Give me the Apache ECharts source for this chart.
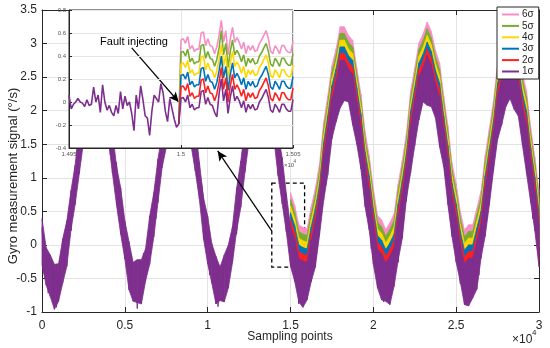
<!DOCTYPE html>
<html><head><meta charset="utf-8">
<script src="https://cdn.jsdelivr.net/npm/echarts@6/dist/echarts.min.js"></script>
<style>html,body{margin:0;padding:0;background:#fff}#c{width:550px;height:348px}</style>
</head><body><div id="c"></div>
<script>
// ---------- data ----------
const seriesNames = ['6σ', '5σ', '4σ', '3σ', '2σ', '1σ'];
// fault bias of each series relative to the 1σ trace
const faultBias = [0.5, 0.4, 0.3, 0.2, 0.1, 0];
const faultStart = 15000;      // sampling point where the fault is injected
// envelope of the noisy 1σ signal band, one value every 250 sampling points
const bandStep = 250;
const mainUpper = [
  0.39,-0.04,-0.15,-0.29,-0.28,0.09,0.36,0.81,1.19,1.77,
  2.12,2.40,2.77,2.77,2.73,2.42,2.19,1.70,1.17,0.85,
  0.36,0.05,-0.26,-0.22,-0.22,-0.06,0.43,0.78,1.28,1.66,
  2.19,2.46,2.62,2.84,2.70,2.51,2.08,1.77,1.23,0.70,
  0.43,0.02,-0.17,-0.33,-0.15,0.00,0.28,0.85,1.25,1.75,
  2.08,2.53,2.68,2.69,2.77,2.48,2.17,1.66,1.30,0.76,
  0.28,0.09,-0.20,-0.24,-0.26,0.07,0.34,0.70,1.32,1.72,
  2.17,2.42,2.75,2.75,2.62,2.55,2.14,1.75,1.19,0.83,
  0.34,-0.06,-0.13,-0.27,-0.17,-0.04,0.41,0.76,1.17,1.79,
  2.14,2.51,2.64,2.82,2.68,2.40,2.21,1.72,1.28,0.72,
  0.41,0.00,-0.28,-0.20,-0.20,0.05,0.30,0.83,1.23,1.64,
  2.21,2.48,2.73,2.71,2.75,2.46,2.06,1.79,1.25,0.81,
  0.30
];
const mainLower = [
  -0.30,-0.60,-0.77,-0.96,-0.84,-0.57,-0.32,0.22,0.60,1.06,
  1.52,1.91,2.01,2.13,2.11,1.80,1.58,1.07,0.59,0.16,
  -0.21,-0.67,-0.84,-0.86,-0.88,-0.54,-0.29,0.12,0.63,1.15,
  1.45,1.84,2.11,2.09,2.14,1.83,1.48,1.10,0.68,0.09,
  -0.28,-0.57,-0.88,-0.83,-0.85,-0.64,-0.26,0.21,0.56,1.08,
  1.55,1.80,2.14,2.12,2.04,1.86,1.57,1.03,0.61,0.19,
  -0.32,-0.54,-0.85,-0.93,-0.82,-0.55,-0.33,0.14,0.66,1.04,
  1.58,1.83,2.04,2.15,2.13,1.79,1.50,1.13,0.57,0.22,
  -0.29,-0.64,-0.82,-0.84,-0.89,-0.62,-0.23,0.10,0.69,1.07,
  1.48,1.86,2.13,2.08,2.06,1.89,1.46,1.16,0.60,0.12,
  -0.26,-0.55,-0.89,-0.91,-0.79,-0.66,-0.20,0.13,0.59,1.10,
  1.57,1.79,2.06,2.18,2.02,1.92,1.49,1.06,0.63,0.21,
  -0.33
];
// 1σ raw trace (noise spikes), one value every 125 sampling points
const traceStep = 125;
const mainSignal = [
  0.26,-0.40,-0.15,-0.72,-0.25,-0.69,-0.39,-0.93,-0.42,-0.62,
  0.00,-0.33,0.28,0.46,0.21,0.84,0.63,1.44,1.28,1.82,
  1.54,2.11,1.96,2.58,2.20,2.67,2.67,2.18,2.53,1.98,
  2.43,1.89,2.02,1.34,1.50,0.97,1.23,0.51,0.70,0.46,
  -0.21,0.00,-0.60,-0.15,-0.64,-0.37,-0.95,-0.47,-0.72,-0.12,
  -0.48,0.09,0.26,-0.01,0.61,0.39,1.20,1.05,1.60,1.34,
  1.92,1.81,2.46,2.10,2.62,2.65,2.20,2.58,2.08,2.55,
  2.04,2.21,1.54,1.72,1.20,1.47,0.75,0.93,0.68,-0.01,
  0.19,-0.45,-0.03,-0.54,-0.32,-0.92,-0.49,-0.77,-0.22,-0.60,
  -0.06,0.07,-0.21,0.39,0.16,0.96,0.81,1.37,1.12,1.72,
  1.62,2.31,1.98,2.52,2.60,2.18,2.60,2.13,2.65,2.16,
  2.36,1.73,1.92,1.42,1.70,0.99,1.17,0.91,0.21,0.39,
  -0.26,0.12,-0.42,-0.22,-0.88,-0.47,-0.79,-0.27,-0.70,-0.18,
  -0.08,-0.40,0.19,-0.06,0.73,0.57,1.13,0.89,1.50,1.42,
  2.12,1.83,2.40,2.50,2.13,2.58,2.15,2.70,2.26,2.48,
  1.88,2.11,1.62,1.92,1.22,1.41,1.15,0.44,0.61,-0.06,
  0.31,-0.27,-0.10,-0.70,-0.42,-0.85,-0.29,-0.75,-0.28,-0.20,
  -0.55,0.00,-0.26,0.51,0.34,0.89,0.65,1.27,1.20,1.92,
  1.64,2.25,2.38,2.03,2.53,2.13,2.72,2.31,2.58,2.00,
  2.26,1.81,2.12,1.44,1.64,1.39,0.68,0.84,0.16,0.51,
  -0.08,0.05,-0.58,-0.32,-0.72,-0.27,-0.85,-0.33,-0.30,-0.67,
  -0.15,-0.45,0.31,0.12,0.66,0.41,1.03,0.97,1.70,1.44,
  2.06,2.23,1.91,2.43,2.08,2.70,2.33,2.63,2.10,2.38,
  1.96,2.31,1.64,1.86,1.62,0.92,1.08,0.39,0.73,0.12,
  0.24
];
// inset: samples 14950..14999 (before fault, all traces equal)
const insetStart = 14950;
const insetPre = [
  0.06,-0.06,-0.02,0.00,0.03,0.00,-0.01,-0.04,0.02,-0.03,
  -0.02,0.13,0.00,0.06,-0.09,0.15,0.00,-0.07,-0.03,-0.09,
  -0.12,-0.03,-0.10,0.09,-0.06,0.05,-0.03,0.00,-0.10,-0.25,
  0.06,-0.06,0.14,0.02,-0.12,-0.14,-0.29,-0.08,0.06,0.03,
  0.00,0.16,0.08,-0.08,-0.17,0.03,-0.06,-0.15,-0.22,-0.19
];
// inset: samples 15000..15050 (after fault)
const inset6s = [0.54,0.55,0.51,0.57,0.46,0.49,0.44,0.46,0.46,0.60,0.61,0.49,0.55,0.49,0.48,0.42,0.48,0.58,0.71,0.52,0.62,0.41,0.55,0.65,0.52,0.56,0.52,0.46,0.52,0.42,0.49,0.45,0.49,0.44,0.45,0.51,0.54,0.58,0.62,0.55,0.44,0.42,0.49,0.46,0.42,0.49,0.49,0.45,0.43,0.43,0.53];
const inset5s = [0.43,0.44,0.40,0.46,0.35,0.38,0.33,0.35,0.35,0.49,0.50,0.38,0.44,0.38,0.37,0.31,0.37,0.47,0.62,0.41,0.51,0.30,0.44,0.54,0.41,0.45,0.41,0.35,0.41,0.31,0.38,0.34,0.38,0.33,0.34,0.40,0.43,0.47,0.51,0.44,0.33,0.31,0.38,0.35,0.31,0.38,0.38,0.34,0.32,0.32,0.42];
const inset4s = [0.33,0.34,0.30,0.36,0.25,0.28,0.23,0.25,0.25,0.39,0.40,0.28,0.34,0.28,0.27,0.21,0.27,0.37,0.50,0.31,0.41,0.20,0.34,0.44,0.31,0.35,0.31,0.25,0.31,0.21,0.28,0.24,0.28,0.23,0.24,0.30,0.33,0.37,0.41,0.34,0.23,0.21,0.28,0.25,0.21,0.28,0.28,0.24,0.22,0.22,0.32];
const inset3s = [0.23,0.24,0.20,0.26,0.15,0.18,0.13,0.15,0.15,0.29,0.30,0.18,0.24,0.18,0.17,0.11,0.17,0.27,0.40,0.21,0.31,0.10,0.24,0.34,0.21,0.25,0.21,0.15,0.21,0.11,0.18,0.14,0.18,0.13,0.14,0.20,0.23,0.27,0.31,0.24,0.13,0.11,0.18,0.15,0.11,0.18,0.18,0.14,0.12,0.12,0.22];
const inset2s = [0.13,0.14,0.10,0.16,0.05,0.08,0.03,0.05,0.05,0.19,0.20,0.08,0.14,0.08,0.07,0.01,0.07,0.17,0.30,0.11,0.21,0.00,0.14,0.24,0.11,0.15,0.11,0.05,0.11,0.01,0.08,0.04,0.08,0.03,0.04,0.10,0.13,0.17,0.21,0.14,0.03,0.01,0.08,0.05,0.01,0.08,0.08,0.04,0.02,0.02,0.12];
const inset1s = [0.03,0.04,0.00,0.06,-0.05,-0.02,-0.07,-0.05,-0.05,0.09,0.10,-0.02,0.04,-0.02,-0.03,-0.09,-0.13,0.07,0.20,0.01,0.11,-0.10,0.04,0.14,0.01,0.05,0.01,-0.05,0.01,-0.09,-0.02,-0.06,-0.02,-0.07,-0.06,0.00,0.03,0.07,0.11,0.04,-0.07,-0.09,-0.02,-0.05,-0.09,-0.02,-0.02,-0.06,-0.08,-0.08,0.02];
const insetPost = [inset6s, inset5s, inset4s, inset3s, inset2s, inset1s];
// tick labels
const mainXTickLabels = ['0', '0.5', '1', '1.5', '2', '2.5', '3'];
const insetXTickLabels = ['1.495', '1.5', '1.505'];
// annotation anchors (data coordinates)
const zoomBox = { x: [13870, 15850], y: [-0.33, 0.92] };
const zoomArrow = [[13865, 0.21], [10606, 1.40]];
const faultArrow = [[14978, 0.47], [14999, 0.0]];

// ---------- style ----------
const colors = ['#f78fc5', '#77ac30', '#ffd700', '#0072bd', '#ff2020', '#7e2f8e'];
const FONT = '"Liberation Sans", Arial, sans-serif';
const AX = '#262626';

const chart = echarts.init(document.getElementById('c'), null, { renderer: 'canvas' });

function bandItems(bias, fromIndex) {
  const out = [];
  for (let i = fromIndex; i < mainUpper.length - 1; i++) {
    out.push([i * bandStep, mainLower[i] + bias, mainUpper[i] + bias,
              (i + 1) * bandStep, mainLower[i + 1] + bias, mainUpper[i + 1] + bias]);
  }
  return out;
}
function bandRenderer(color) {
  return function (params, api) {
    const p = [
      api.coord([api.value(0), api.value(1)]), api.coord([api.value(0), api.value(2)]),
      api.coord([api.value(3), api.value(5)]), api.coord([api.value(3), api.value(4)])
    ];
    return { type: 'polygon', shape: { points: p },
      style: { fill: color, stroke: color, lineWidth: 0.8 } };
  };
}

const series = [];
const faultBandIdx = faultStart / bandStep;
seriesNames.forEach((name, j) => {
  const last = j === seriesNames.length - 1;
  series.push({
    name, type: 'custom', xAxisIndex: 0, yAxisIndex: 0,
    data: bandItems(faultBias[j], last ? 0 : faultBandIdx),
    encode: { x: [0, 3], y: [1, 2, 4, 5] },
    renderItem: bandRenderer(colors[j]),
    itemStyle: { color: colors[j] }, z: 2, silent: true
  });
});
// raw 1σ trace on top of its band
series.push({
  name: '1σ', type: 'line', xAxisIndex: 0, yAxisIndex: 0,
  data: mainSignal.map((v, i) => [i * traceStep, v]),
  showSymbol: false, symbol: 'none', color: colors[5],
  lineStyle: { width: 1, color: colors[5] }, z: 3, silent: true
});
seriesNames.forEach((name, j) => {
  let data;
  if (j === seriesNames.length - 1) {
    data = insetPre.map((v, i) => [insetStart + i, v])
      .concat(insetPost[j].map((v, i) => [faultStart + i, v]));
  } else {
    data = [[faultStart - 1, insetPre[insetPre.length - 1]]]
      .concat(insetPost[j].map((v, i) => [faultStart + i, v]));
  }
  series.push({
    name, type: 'line', xAxisIndex: 2, yAxisIndex: 2, data,
    showSymbol: false, symbol: 'none', color: colors[j],
    lineStyle: { width: 1.6, color: colors[j] }, z: 7, silent: true
  });
});
// annotations
series.push({
  type: 'line', xAxisIndex: 0, yAxisIndex: 0, data: [], z: 9, silent: true,
  markArea: {
    silent: true,
    itemStyle: { color: 'rgba(0,0,0,0)', borderColor: '#000', borderWidth: 1.3, borderType: [4, 3] },
    data: [[{ coord: [zoomBox.x[0], zoomBox.y[1]] }, { coord: [zoomBox.x[1], zoomBox.y[0]] }]]
  },
  markLine: {
    silent: true, symbol: ['none', 'arrow'], symbolSize: [7, 10],
    lineStyle: { color: '#000', width: 1.2, type: 'solid' }, label: { show: false },
    data: [[{ coord: zoomArrow[0] }, { coord: zoomArrow[1] }]]
  }
});
series.push({
  type: 'line', xAxisIndex: 2, yAxisIndex: 2, data: [], z: 9, silent: true,
  markLine: {
    silent: true, symbol: ['none', 'arrow'], symbolSize: [7, 10],
    lineStyle: { color: '#000', width: 1.2, type: 'solid' }, label: { show: false },
    data: [[{ coord: faultArrow[0] }, { coord: faultArrow[1] }]]
  }
});

const option = {
  animation: false,
  backgroundColor: '#fff',
  textStyle: { fontFamily: FONT },
  legend: {
    data: seriesNames, orient: 'vertical', left: 497, top: 7,
    icon: 'rect', itemWidth: 17, itemHeight: 2, itemGap: 0.4,
    padding: [2, 5, 2, 5], backgroundColor: '#fff', borderColor: AX, borderWidth: 1,
    textStyle: { fontSize: 10, color: AX, fontFamily: FONT, lineHeight: 11, padding: [0, 0, 0, -2] },
    selectedMode: false, z: 10
  },
  grid: [
    { left: 42, top: 10, width: 497, height: 302, show: false },
    { left: 69, top: 10, width: 224, height: 138, show: true, backgroundColor: '#fff',
      borderColor: AX, borderWidth: 1, z: 5 }
  ],
  xAxis: [
    { type: 'value', gridIndex: 0, min: 0, max: 30000, interval: 5000,
      axisLine: { show: true, onZero: false, lineStyle: { color: AX, width: 1 } },
      axisTick: { show: true, inside: true, length: 5, lineStyle: { color: AX } },
      axisLabel: { color: AX, fontSize: 12, margin: 8, fontFamily: FONT,
        formatter: v => mainXTickLabels[Math.round(v / 5000)] },
      splitLine: { show: true, lineStyle: { color: '#e3e3e3', width: 1 } } },
    { type: 'value', gridIndex: 0, position: 'top', min: 0, max: 30000, interval: 5000,
      axisLine: { show: true, onZero: false, lineStyle: { color: AX } },
      axisTick: { show: true, inside: true, length: 5, lineStyle: { color: AX } },
      axisLabel: { show: false }, splitLine: { show: false } },
    { type: 'value', gridIndex: 1, min: 14950, max: 15050, interval: 50, z: 6,
      axisLine: { show: true, onZero: false, lineStyle: { color: AX } },
      axisTick: { show: true, inside: true, length: 3, lineStyle: { color: AX } },
      axisLabel: { color: '#555', fontSize: 6, margin: 3, fontFamily: FONT,
        formatter: v => insetXTickLabels[Math.round((v - 14950) / 50)] },
      splitLine: { show: true, lineStyle: { color: '#e6e6e6' } } }
  ],
  yAxis: [
    { type: 'value', gridIndex: 0, min: -1, max: 3.5, interval: 0.5,
      axisLine: { show: true, onZero: false, lineStyle: { color: AX } },
      axisTick: { show: true, inside: true, length: 5, lineStyle: { color: AX } },
      axisLabel: { color: AX, fontSize: 12, margin: 5, fontFamily: FONT },
      splitLine: { show: true, lineStyle: { color: '#e3e3e3', width: 1 } } },
    { type: 'value', gridIndex: 0, position: 'right', min: -1, max: 3.5, interval: 0.5,
      axisLine: { show: true, onZero: false, lineStyle: { color: AX } },
      axisTick: { show: true, inside: true, length: 5, lineStyle: { color: AX } },
      axisLabel: { show: false }, splitLine: { show: false } },
    { type: 'value', gridIndex: 1, min: -0.4, max: 0.8, interval: 0.2, z: 6,
      axisLine: { show: true, onZero: false, lineStyle: { color: AX } },
      axisTick: { show: true, inside: true, length: 3, lineStyle: { color: AX } },
      axisLabel: { color: '#555', fontSize: 6, margin: 3, fontFamily: FONT,
        formatter: v => String(+v.toFixed(1)) },
      splitLine: { show: true, lineStyle: { color: '#e6e6e6' } } }
  ],
  graphic: [
    { type: 'text', x: 13, y: 176, rotation: Math.PI / 2, z: 10,
      style: { text: 'Gyro measurement signal (°/s)', fontSize: 13, fontFamily: FONT, fill: AX,
        align: 'center', verticalAlign: 'middle' } },
    { type: 'text', x: 290, y: 337, z: 10,
      style: { text: 'Sampling points', fontSize: 12, fontFamily: FONT, fill: AX,
        align: 'center', verticalAlign: 'middle' } },
    { type: 'text', x: 512, y: 340, z: 10,
      style: { text: '×10', fontSize: 12, fontFamily: FONT, fill: AX, align: 'left', verticalAlign: 'middle' } },
    { type: 'text', x: 532, y: 333, z: 10,
      style: { text: '4', fontSize: 8, fontFamily: FONT, fill: AX, align: 'left', verticalAlign: 'middle' } },
    { type: 'text', x: 284, y: 165, z: 10,
      style: { text: '×10', fontSize: 6, fontFamily: FONT, fill: '#555', align: 'left', verticalAlign: 'middle' } },
    { type: 'text', x: 293.5, y: 162, z: 10,
      style: { text: '4', fontSize: 4.5, fontFamily: FONT, fill: '#555', align: 'left', verticalAlign: 'middle' } },
    { type: 'text', x: 134, y: 42, z: 10,
      style: { text: 'Fault injecting', fontSize: 11, fontFamily: FONT, fill: '#000',
        align: 'center', verticalAlign: 'middle' } }
  ],
  series
};
chart.setOption(option);
</script></body></html>
